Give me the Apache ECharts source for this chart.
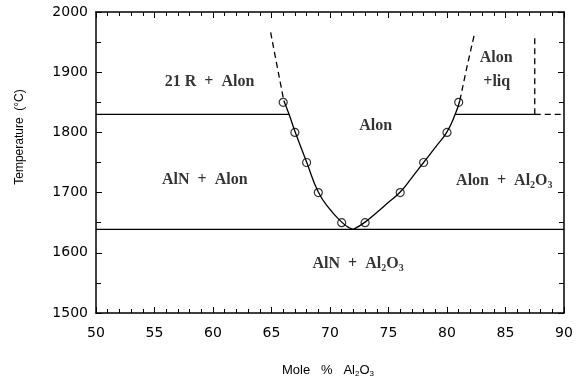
<!DOCTYPE html>
<html>
<head>
<meta charset="utf-8">
<script src="https://cdn.jsdelivr.net/npm/echarts@6/dist/echarts.min.js"></script>
<style>
  html, body { margin: 0; padding: 0; background: #fff; }
  #chart { width: 584px; height: 383px; }
</style>
</head>
<body>
<div id="chart"></div>
<script>
// Composition axis (mole % Al2O3) and temperature axis (°C)
const xRange = [50, 90];
const yRange = [1500, 2000];

// Invariant temperatures
const lowerInvariantT = 1639;   // AlN + Al2O3 below
const upperInvariantT = 1830;   // 21R + Alon / Alon + liq boundary

// Measured Alon phase-field limits (open circles)
const measuredLeft = [[66, 1850], [67, 1800], [68, 1750], [69, 1700], [71, 1650]];
const measuredRight = [[73, 1650], [76, 1700], [78, 1750], [80, 1800], [81, 1850]];

// Fitted Alon boundary (solid) and its extrapolation (dashed)
const leftBoundary = [[66.05, 1853], [66.5, 1830], [67, 1802], [68, 1751], [69, 1701], [70, 1672], [71, 1651], [71.6, 1642], [72, 1639]];
const leftExtrapolation = [[64.93, 1966], [65.5, 1908], [66.05, 1853]];
const rightBoundary = [[72, 1639], [73, 1651], [74, 1667], [75, 1684], [76, 1701], [77, 1725], [78, 1750], [79, 1775], [80, 1801], [80.7, 1830], [81.1, 1853]];
const rightExtrapolation = [[81.1, 1853], [81.7, 1908], [82.33, 1962]];

// Alon + liq field limits
const liquidLimitX = 87.5;
const liquidLimitTopT = 1962;

// Region names, placed at data coordinates
const regionLabels = [
  { text: '21 R  +  Alon', x: 59.7, y: 1884 },
  { text: 'Alon', x: 73.9, y: 1811 },
  { text: 'AlN  +  Alon', x: 59.3, y: 1721 },
  { text: 'Alon  +  Al{s|2}O{s|3}', x: 84.9, y: 1720 },
  { text: 'Alon', x: 84.2, y: 1924 },
  { text: '+liq', x: 84.25, y: 1884 },
  { text: 'AlN  +  Al{s|2}O{s|3}', x: 72.4, y: 1582 }
];

const chart = echarts.init(document.getElementById('chart'), null, { renderer: 'canvas' });

const tickFont = { fontFamily: 'DejaVu Sans', fontSize: 14, color: '#000' };
const lineStyleSolid = { color: '#000', width: 1.3, type: 'solid' };
const lineStyleDashed = { color: '#000', width: 1.3, type: [6, 4] };

function lineSeries(data, style, smooth) {
  return {
    type: 'line',
    data: data,
    symbol: 'none',
    smooth: smooth ? 0.5 : false,
    lineStyle: style,
    silent: true,
    animation: false,
    z: 2
  };
}

const baseXAxis = {
  type: 'value', min: xRange[0], max: xRange[1], interval: 5,
  splitLine: { show: false },
  axisLine: { show: true, onZero: false, lineStyle: { color: '#000', width: 1.5 } },
  axisTick: { show: true, inside: true, length: 6, lineStyle: { color: '#000', width: 1 } },
  minorTick: { show: true, splitNumber: 5, length: 4, lineStyle: { color: '#000', width: 1 } }
};
const baseYAxis = {
  type: 'value', min: yRange[0], max: yRange[1], interval: 100,
  splitLine: { show: false },
  axisLine: { show: true, onZero: false, lineStyle: { color: '#000', width: 1.5 } },
  axisTick: { show: true, inside: true, length: 6, lineStyle: { color: '#000', width: 1 } },
  minorTick: { show: true, splitNumber: 2, length: 5, lineStyle: { color: '#000', width: 1 } }
};

const option = {
  backgroundColor: '#fff',
  animation: false,
  grid: { left: 96, right: 20, top: 12, bottom: 70, containLabel: false, outerBoundsMode: 'none' },
  xAxis: [
    Object.assign({}, baseXAxis, { position: 'bottom',
      axisLabel: Object.assign({ margin: 13, formatter: v => String(v) }, tickFont) }),
    Object.assign({}, baseXAxis, { position: 'top', axisLabel: { show: false } })
  ],
  yAxis: [
    Object.assign({}, baseYAxis, { position: 'left',
      axisLabel: Object.assign({ margin: 8, formatter: v => String(v) }, tickFont) }),
    Object.assign({}, baseYAxis, { position: 'right', axisLabel: { show: false } })
  ],
  graphic: [
    {
      type: 'text', x: 20, y: 137, rotation: Math.PI / 2,
      style: { text: 'Temperature  (°C)', fontFamily: 'Liberation Sans', fontSize: 12,
               fill: '#000', align: 'center', verticalAlign: 'middle' }
    },
    {
      type: 'text', x: 328, y: 370,
      style: {
        text: 'Mole   %   Al{s|2}O{s|3}', fontFamily: 'Liberation Sans', fontSize: 13,
        fill: '#000', align: 'center', verticalAlign: 'middle', lineHeight: 16,
        rich: { s: { fontFamily: 'Liberation Sans', fontSize: 8, lineHeight: 8, verticalAlign: 'bottom', fill: '#000' } }
      }
    }
  ],
  series: [
    lineSeries([[xRange[0], upperInvariantT], [66.5, upperInvariantT]], lineStyleSolid),
    lineSeries([[80.7, upperInvariantT], [liquidLimitX, upperInvariantT]], lineStyleSolid),
    lineSeries([[liquidLimitX, upperInvariantT], [xRange[1], upperInvariantT]], lineStyleDashed),
    lineSeries([[liquidLimitX, upperInvariantT], [liquidLimitX, liquidLimitTopT]], lineStyleDashed),
    lineSeries([[xRange[0], lowerInvariantT], [xRange[1], lowerInvariantT]], lineStyleSolid),
    lineSeries(leftBoundary, lineStyleSolid, true),
    lineSeries(leftExtrapolation, lineStyleDashed, true),
    lineSeries(rightBoundary, lineStyleSolid, true),
    lineSeries(rightExtrapolation, lineStyleDashed, true),
    {
      type: 'scatter',
      data: measuredLeft.concat(measuredRight),
      symbol: 'circle',
      symbolSize: 8,
      itemStyle: { color: 'rgba(255,255,255,0)', borderColor: '#000', borderWidth: 1.2 },
      silent: true,
      z: 3
    },
    {
      type: 'scatter',
      data: regionLabels.map(d => ({ value: [d.x, d.y], name: d.text })),
      symbolSize: 0,
      silent: true,
      z: 4,
      label: {
        show: true,
        position: 'inside',
        formatter: p => p.name,
        fontFamily: 'Liberation Serif',
        fontWeight: 'bold',
        fontSize: 16,
        color: '#000',
        textBorderWidth: 0,
        lineHeight: 20,
        align: 'center',
        verticalAlign: 'middle',
        rich: {
          s: { fontFamily: 'Liberation Serif', fontWeight: 'bold', fontSize: 10, lineHeight: 10,
               verticalAlign: 'bottom', color: '#000', textBorderWidth: 0 }
        }
      }
    }
  ]
};

chart.setOption(option);
</script>
</body>
</html>
